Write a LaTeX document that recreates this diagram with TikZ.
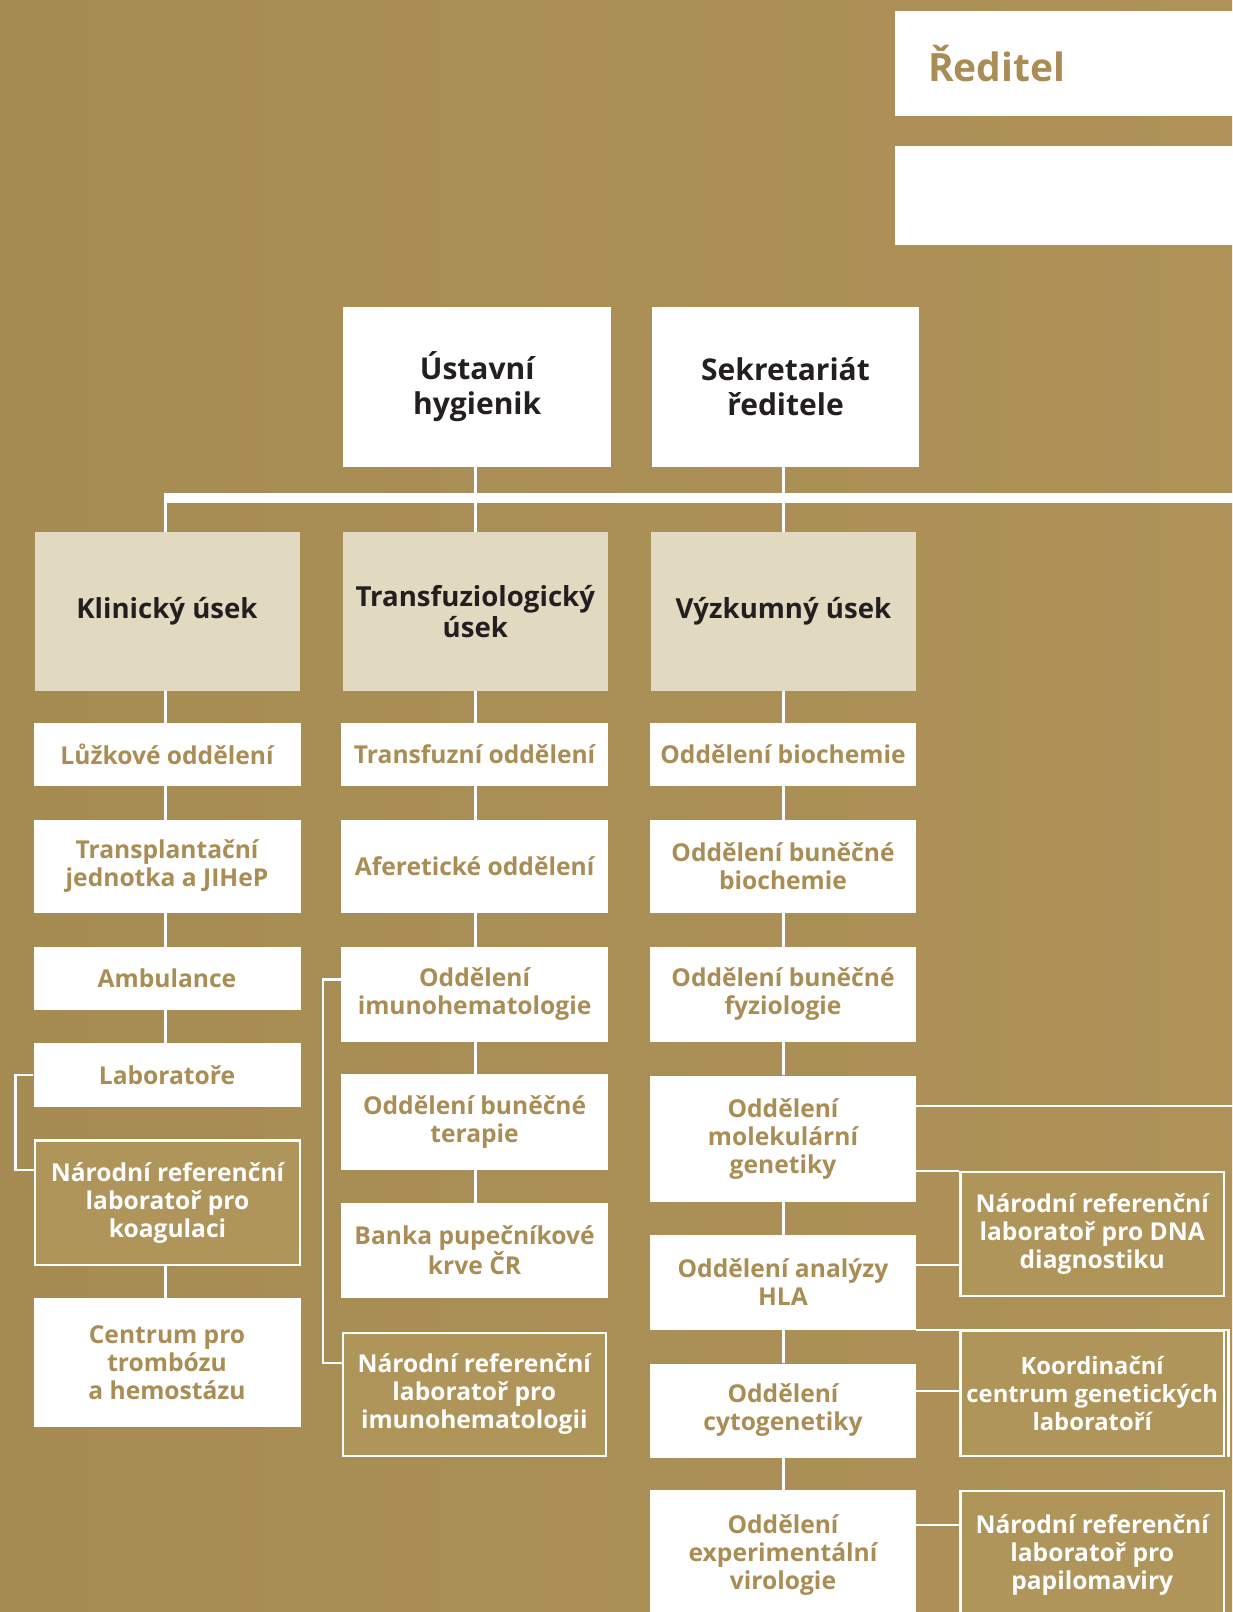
\documentclass[tikz,border=0pt]{standalone}
\usepackage{fontspec}
\setmainfont{Open Sans}
\definecolor{bgL}{HTML}{A68B53}
\definecolor{bgR}{HTML}{AE9258}
\definecolor{gold}{HTML}{A98D55}
\definecolor{beige}{HTML}{E2D9C1}
\definecolor{dark}{HTML}{231F20}
\definecolor{nrlfill}{HTML}{B0955A}
\newcommand\goldfont{\bfseries\fontsize{24.6}{28}\selectfont}
\newcommand\goldsmall{\bfseries\fontsize{23.8}{28}\selectfont}
\newcommand\headfont{\bfseries\fontsize{27.6}{31}\selectfont}
\newcommand\topfont{\bfseries\fontsize{30}{35}\selectfont}
\newcommand\bigfont{\bfseries\fontsize{39}{42}\selectfont}
\tikzset{
  wbox/.style={rectangle, fill=white, text=gold, font=\goldfont, align=center, inner sep=2pt},
  hbox/.style={rectangle, fill=beige, text=dark, font=\headfont, align=center, inner sep=2pt},
  tbox/.style={rectangle, fill=white, text=dark, font=\topfont, align=center, inner sep=2pt},
  nbox/.style={rectangle, fill=nrlfill, draw=white, line width=2.2pt, text=white, font=\goldfont, align=center, inner sep=2pt},
  conn/.style={draw=white, line width=2.4pt},
  busline/.style={draw=white, line width=10.6pt},
}
\begin{document}
\begin{tikzpicture}[x=1pt,y=-1pt]
\useasboundingbox (0,0) rectangle (1232,1612);
\shade[left color=bgL, right color=bgR] (0,0) rectangle (1232,1612);

% top right boxes
\node[rectangle, fill=white, text=gold, font=\bigfont, anchor=north west,
      minimum height=105.7, text width=312, inner xsep=33, inner ysep=0, align=left]
      (reditel) at (895,10.3) {Ředitel};
\node[rectangle, fill=white, anchor=north west, minimum width=345, minimum height=98.3, inner sep=0]
      (box2) at (895,146) {};

% top row
\node[tbox, minimum width=267.5, minimum height=160.5] (ustav) at (477.2,386.75) {Ústavní\\hygienik};
\node[tbox, minimum width=267, minimum height=160.5] (sekr) at (785.5,386.75) {Sekretariát\\ředitele};

% header row
\node[hbox, minimum width=265, minimum height=158.5] (klin) at (167,611.25) {Klinický úsek};
\node[hbox, minimum width=265, minimum height=158.5] (trans) at (475.3,611.25) {Transfuziologický\\úsek};
\node[hbox, minimum width=265, minimum height=158.5] (vyz) at (783.4,611.25) {Výzkumný úsek};

% bus
\coordinate (busL) at (164.3,498);
\coordinate (busR) at (1240,498);
\draw[busline] (busL) -- (busR);
\coordinate (colL) at (165.5,0);
\draw[conn] (colL |- busL) -- (colL |- klin.north);
\draw[conn] (trans.north |- ustav.south) -- (trans.north);
\draw[conn] (vyz.north |- sekr.south) -- (vyz.north);

% left column
\node[wbox, minimum width=267, minimum height=63] (luz) at (167,754.5) {Lůžkové oddělení};
\node[wbox, minimum width=267, minimum height=93.5] (tx) at (167,866.5) {Transplantační\\jednotka a JIHeP};
\node[wbox, minimum width=267, minimum height=63] (amb) at (167,978.5) {Ambulance};
\node[wbox, minimum width=267, minimum height=64] (lab) at (167,1075) {Laboratoře};
\node[nbox, minimum width=264.8, minimum height=124.3] (nrlk) at (167.5,1202.7) {Národní referenční\\laboratoř pro\\koagulaci};
\node[wbox, minimum width=267, minimum height=128.4] (cent) at (167,1362.5) {Centrum pro\\trombózu\\a hemostázu};

\draw[conn] (colL |- klin.south) -- (colL |- luz.north);
\draw[conn] (colL |- luz.south) -- (colL |- tx.north);
\draw[conn] (colL |- tx.south) -- (colL |- amb.north);
\draw[conn] (colL |- amb.south) -- (colL |- lab.north);
\draw[conn] (colL |- nrlk.south) -- (colL |- cent.north);
\coordinate (brL) at (15.3,1170);
\draw[conn] (lab.west) -| (brL) -- (brL -| nrlk.west);

% middle column
\node[wbox, minimum width=267, minimum height=63] (tfo) at (474.6,754.5) {Transfuzní oddělení};
\node[wbox, minimum width=267, minimum height=93.5] (afer) at (474.6,866.5) {Aferetické oddělení};
\node[wbox, minimum width=267, minimum height=95.5] (imun) at (474.6,994.5) {Oddělení\\imunohematologie};
\node[wbox, minimum width=267, minimum height=95.7] (bter) at (474.6,1122.2) {Oddělení buněčné\\terapie};
\node[wbox, minimum width=267, minimum height=95.6] (banka) at (474.6,1250.5) {Banka pupečníkové\\krve ČR};
\node[nbox, minimum width=262.8, minimum height=123.1] (nrli) at (474.3,1394.3) {Národní referenční\\laboratoř pro\\imunohematologii};

\draw[conn] (trans.south) -- (trans.south |- tfo.north);
\draw[conn] (trans.south |- tfo.south) -- (trans.south |- afer.north);
\draw[conn] (trans.south |- afer.south) -- (trans.south |- imun.north);
\draw[conn] (trans.south |- imun.south) -- (trans.south |- bter.north);
\draw[conn] (trans.south |- bter.south) -- (trans.south |- banka.north);
\coordinate (brMt) at (323,979.3);
\coordinate (brMb) at (323,1362.7);
\draw[conn] (imun.west |- brMt) -- (brMt) -- (brMb) -- (brMb -| nrli.west);

% right column
\node[wbox, minimum width=266, minimum height=63] (bioc) at (783,754.5) {Oddělení biochemie};
\node[wbox, minimum width=266, minimum height=93.5] (bbio) at (783,866.5) {Oddělení buněčné\\biochemie};
\node[wbox, minimum width=266, minimum height=95.5] (bfyz) at (783,994.5) {Oddělení buněčné\\fyziologie};
\node[wbox, minimum width=266, minimum height=126.3] (mol) at (783,1138.8) {Oddělení\\molekulární\\genetiky};
\node[wbox, minimum width=266, minimum height=95] (hla) at (783,1282.5) {Oddělení analýzy\\HLA};
\node[wbox, minimum width=266, minimum height=94] (cyto) at (783,1410.5) {Oddělení\\cytogenetiky};
\node[wbox, minimum width=266, minimum height=131] (viro) at (783,1555.5) {Oddělení\\experimentální\\virologie};

\draw[conn] (vyz.south) -- (vyz.south |- bioc.north);
\draw[conn] (vyz.south |- bioc.south) -- (vyz.south |- bbio.north);
\draw[conn] (vyz.south |- bbio.south) -- (vyz.south |- bfyz.north);
\draw[conn] (vyz.south |- bfyz.south) -- (vyz.south |- mol.north);
\draw[conn] (vyz.south |- mol.south) -- (vyz.south |- hla.north);
\draw[conn] (vyz.south |- hla.south) -- (vyz.south |- cyto.north);
\draw[conn] (vyz.south |- cyto.south) -- (vyz.south |- viro.north);

% far right column
\node[nbox, minimum width=263.5, minimum height=123.8] (dna) at (1092.2,1234) {Národní referenční\\laboratoř pro DNA\\diagnostiku};
\node[nbox, font=\goldsmall, minimum width=263.5, minimum height=125.2] (koord) at (1092.2,1393) {Koordinační\\centrum genetických\\laboratoří};
\node[nbox, minimum width=263.5, minimum height=129] (papi) at (1092.2,1555.5) {Národní referenční\\laboratoř pro\\papilomaviry};

\coordinate (edgeA) at (1240,1105.7);
\draw[conn] (edgeA -| mol.east) -- (edgeA);
\draw[conn] (dna.north west -| mol.east) -- (dna.north west);
\coordinate (yD) at (0,1265);
\draw[conn] (hla.east |- yD) -- (dna.west |- yD);
\coordinate (edgeB) at (1228.5,1330);
\coordinate (edgeBb) at (1228.5,1457);
\draw[conn] (edgeB -| hla.east) -- (edgeB) -- (edgeBb);
\coordinate (yK) at (0,1391);
\draw[conn] (cyto.east |- yK) -- (koord.west |- yK);
\coordinate (yP) at (0,1525);
\draw[conn] (viro.east |- yP) -- (papi.west |- yP);
\end{tikzpicture}
\end{document}
